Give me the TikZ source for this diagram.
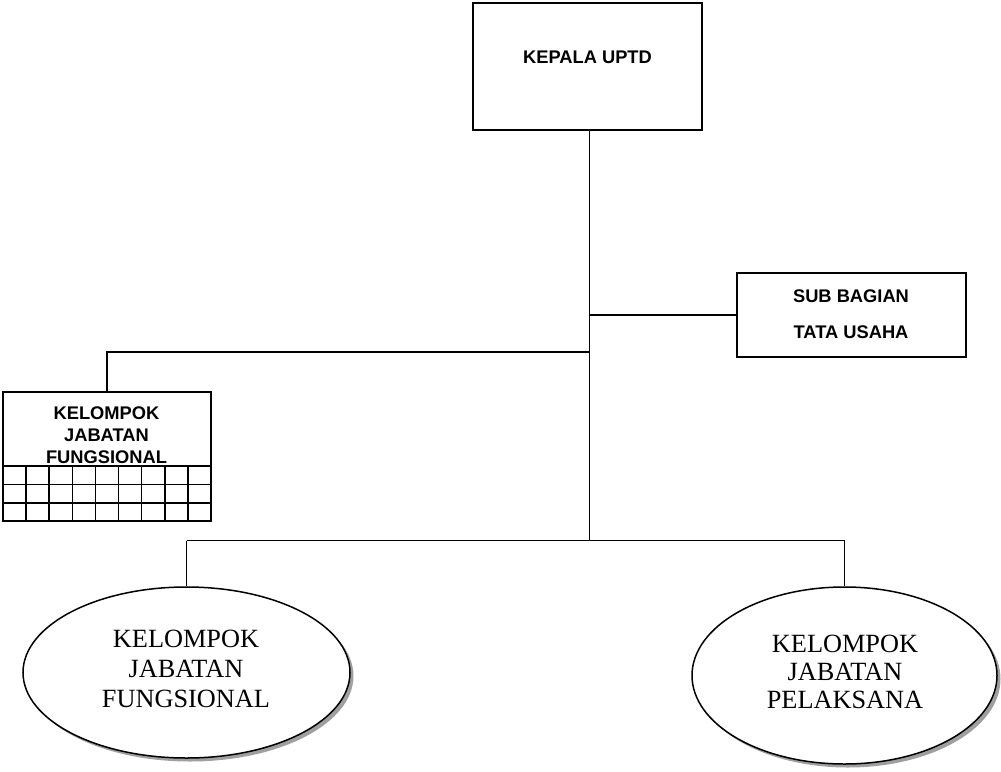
\documentclass[tikz,border=0pt]{standalone}
\usepackage{fontspec}
\setmainfont{Liberation Serif}
\setsansfont{Liberation Sans}
\usetikzlibrary{shapes.geometric}
\begin{document}
\begin{tikzpicture}[x=1pt,y=-1pt, line width=1.5pt,
  boxstyle/.style={draw, rectangle, inner sep=0pt, fill=white},
  sanslabel/.style={font=\fontsize{18.3}{22}\selectfont\sffamily\bfseries, inner sep=0pt, anchor=base},
  seriflabel/.style={font=\fontsize{26.3}{30}\selectfont\rmfamily, inner sep=0pt, anchor=base},
  oval/.style={draw, ellipse, fill=white, inner sep=0pt},
  shadowoval/.style={ellipse, fill=gray!75, inner sep=0pt}]
\useasboundingbox (0,0) rectangle (1001,771);

% top box
\node[boxstyle, minimum width=229pt, minimum height=127pt] (kepala) at (587.5,66.5) {};
\node[sanslabel] (kepalatxt) at (587.5,63) {KEPALA UPTD};

% sub bagian
\node[boxstyle, minimum width=229pt, minimum height=84pt] (sub) at (851.4,314.8) {};
\node[sanslabel] (subtxta) at (851,302) {SUB BAGIAN};
\node[sanslabel] (subtxtb) at (851,338) {TATA USAHA};

% grid box
\node[boxstyle, minimum width=208pt, minimum height=129pt] (grid) at (107,456.5) {};
\node[sanslabel] (gtxta) at (106.5,419) {KELOMPOK};
\node[sanslabel] (gtxtb) at (106.5,441.5) {JABATAN};
\node[sanslabel] (gtxtc) at (106.5,463) {FUNGSIONAL};
\foreach \yy in {466,484.5,503}
  \draw (3,\yy) -- (211,\yy);
\foreach \k in {1,...,8}
  \draw ({3+23.11*\k},466) -- ({3+23.11*\k},521);

% ellipses with shadows
\node[shadowoval, minimum width=327pt, minimum height=171pt] (lfs) at (190,676) {};
\node[oval, minimum width=327pt, minimum height=171pt] (lf) at (186.5,672.5) {};
\node[seriflabel] (lftxta) at (186,647) {KELOMPOK};
\node[seriflabel] (lftxtb) at (186,677) {JABATAN};
\node[seriflabel] (lftxtc) at (186,707) {FUNGSIONAL};

\node[shadowoval, minimum width=305pt, minimum height=177pt] (rfs) at (848,679) {};
\node[oval, minimum width=305pt, minimum height=177pt] (rf) at (844.5,675.5) {};
\node[seriflabel] (rftxta) at (845,652) {KELOMPOK};
\node[seriflabel] (rftxtb) at (845,680) {JABATAN};
\node[seriflabel] (rftxtc) at (845,708) {PELAKSANA};

% connectors
\coordinate (tk) at (589.3,540.5);
\coordinate (subj) at (589.3,314.8);
\coordinate (lj) at (589.3,352);
\draw (kepala.south -| tk) -- (tk);
\draw (subj) -- (sub.west);
\draw (lj) -- (lj -| grid.north) -- (grid.north);
\draw (lf.north |- tk) -- (rf.north |- tk);
\draw (lf.north |- tk) -- (lf.north);
\draw (rf.north |- tk) -- (rf.north);
\end{tikzpicture}
\end{document}
